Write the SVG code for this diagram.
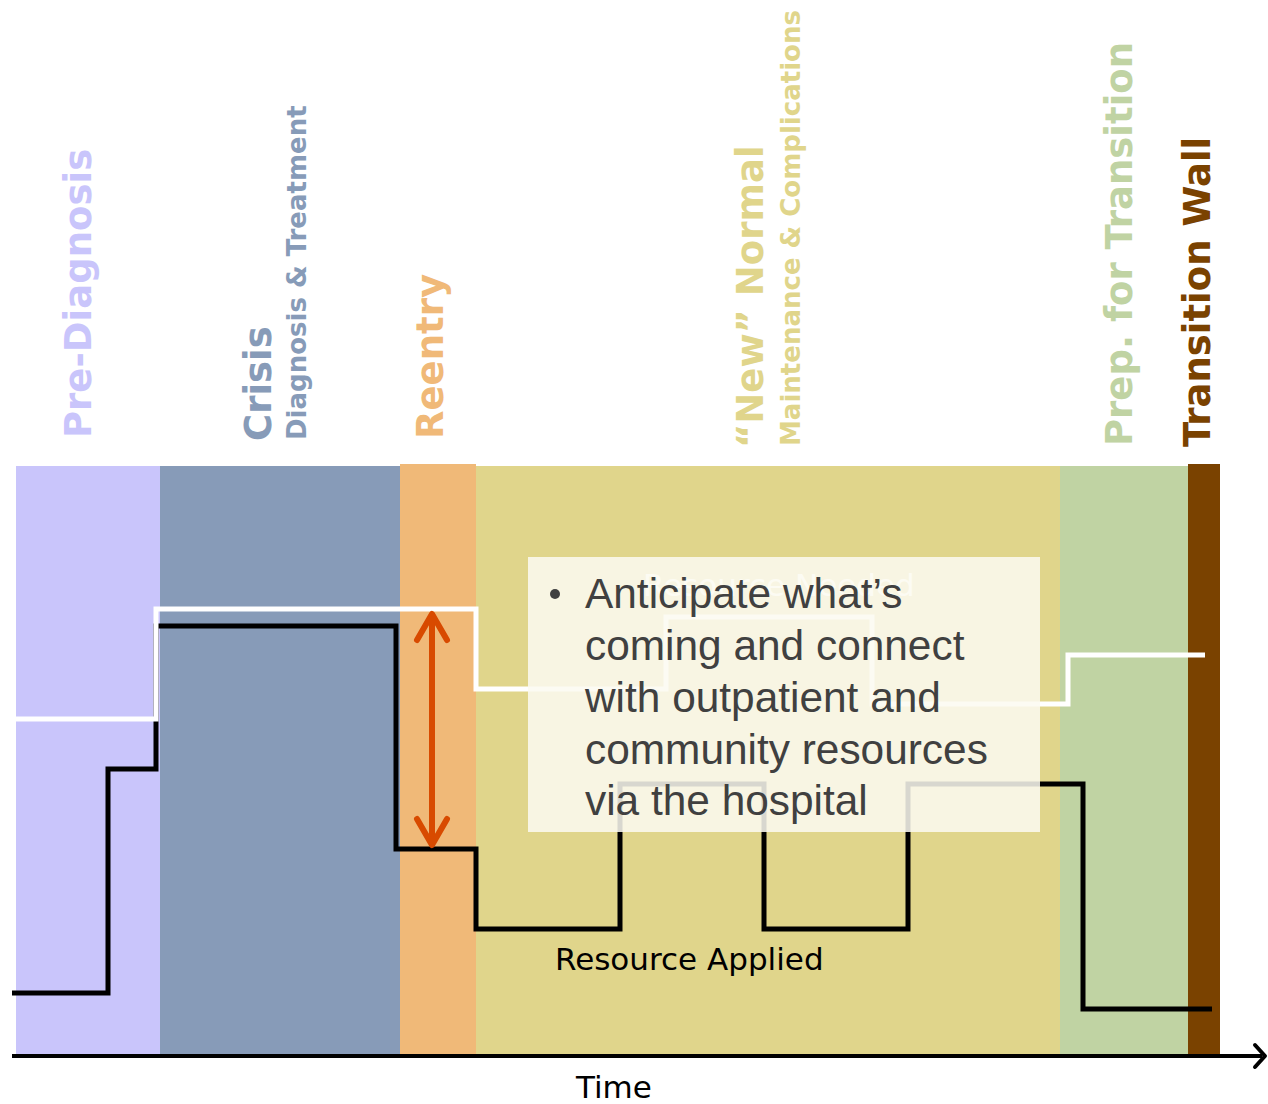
<svg xmlns="http://www.w3.org/2000/svg" width="1268" height="1104" viewBox="0 0 1268 1104">
  <style>
    .phase { font-family: "DejaVu Sans", Verdana, sans-serif; font-weight: bold; font-size: 37px; }
    .sub { font-family: "DejaVu Sans", Verdana, sans-serif; font-weight: bold; font-size: 26px; }
    .lbl { font-family: "DejaVu Sans", Verdana, sans-serif; font-size: 31px; }
    .note { font-family: "Liberation Sans", Arial, sans-serif; font-size: 42.4px; fill: #404040; }
    .step { fill: none; stroke-linejoin: miter; stroke-linecap: butt; }
    .head { fill: none; stroke: #d84a00; stroke-width: 6; stroke-linecap: round; stroke-linejoin: round; }
  </style>
  <rect width="1268" height="1104" fill="#ffffff"/>

  <!-- phase bands -->
  <g id="pre-diagnosis">
    <rect x="16" y="466" width="144" height="590" fill="#c9c5fb"/>
    <text class="phase" fill="#c9c5fb" transform="translate(91,438) rotate(-90)">Pre-Diagnosis</text>
  </g>
  <g id="crisis">
    <rect x="160" y="466" width="240" height="590" fill="#879bb8"/>
    <text class="phase" fill="#879bb8" transform="translate(271,441) rotate(-90)">Crisis</text>
    <text class="sub" fill="#879bb8" transform="translate(306,440) rotate(-90)">Diagnosis &amp; Treatment</text>
  </g>
  <g id="reentry">
    <rect x="400" y="464" width="76" height="592" fill="#f0b978"/>
    <text class="phase" fill="#f0b978" transform="translate(443,439) rotate(-90)">Reentry</text>
  </g>
  <g id="new-normal">
    <rect x="476" y="466" width="584" height="590" fill="#e0d58b"/>
    <text class="phase" fill="#e0d58b" transform="translate(763,448) rotate(-90)">“New” Normal</text>
    <text class="sub" fill="#e0d58b" transform="translate(800,446) rotate(-90)">Maintenance &amp; Complications</text>
  </g>
  <g id="prep-transition">
    <rect x="1060" y="466" width="128" height="590" fill="#c0d3a3"/>
    <text class="phase" fill="#c0d3a3" transform="translate(1132,446) rotate(-90)">Prep. for Transition</text>
  </g>
  <g id="transition-wall">
    <rect x="1188" y="464" width="32" height="592" fill="#7a4200"/>
    <text class="phase" fill="#7a4200" font-size="38" transform="translate(1210,447) rotate(-90)">Transition Wall</text>
  </g>

  <!-- resource curves, gap arrow and time axis -->
  <g id="connectors">
    <path id="resource-applied" class="step" stroke="#000000" stroke-width="5"
          d="M12,993 H108 V769 H156 V626 H396 V849 H476 V929 H620 V784 H764 V929 H908 V784 H1083 V1009 H1212"/>
    <path id="resource-needed" class="step" stroke="#ffffff" stroke-width="5"
          d="M16,719 H156 V609 H476 V689 H666 V617 H872 V704 H1068 V655 H1205"/>
    <line id="gap" x1="432" y1="616" x2="432" y2="843" stroke="#d84a00" stroke-width="6"/>
    <path class="head" d="M417,640 L432,614 L447,640"/>
    <path class="head" d="M417,819 L432,845 L447,819"/>
    <line x1="12" y1="1056" x2="1262" y2="1056" stroke="#000000" stroke-width="4"/>
    <path d="M1255,1045 L1265,1056 L1255,1067" fill="none" stroke="#000000" stroke-width="4" stroke-linecap="round" stroke-linejoin="round"/>
  </g>

  <g id="curve-labels">
    <text class="lbl" fill="#ffffff" x="643" y="596">Resource Needed</text>
    <text class="lbl" fill="#000000" x="555" y="970">Resource Applied</text>
    <text class="lbl" fill="#000000" x="576" y="1098">Time</text>
  </g>

  <!-- callout, semi-transparent over the curves -->
  <g id="callout">
    <rect x="528" y="557" width="512" height="275" fill="#fbfaf1" fill-opacity="0.86"/>
    <circle cx="555" cy="594" r="5" fill="#404040"/>
    <text class="note">
      <tspan x="585" y="608">Anticipate what’s</tspan>
      <tspan x="585" y="660">coming and connect</tspan>
      <tspan x="585" y="712">with outpatient and</tspan>
      <tspan x="585" y="764">community resources</tspan>
      <tspan x="585" y="815">via the hospital</tspan>
    </text>
  </g>
</svg>
